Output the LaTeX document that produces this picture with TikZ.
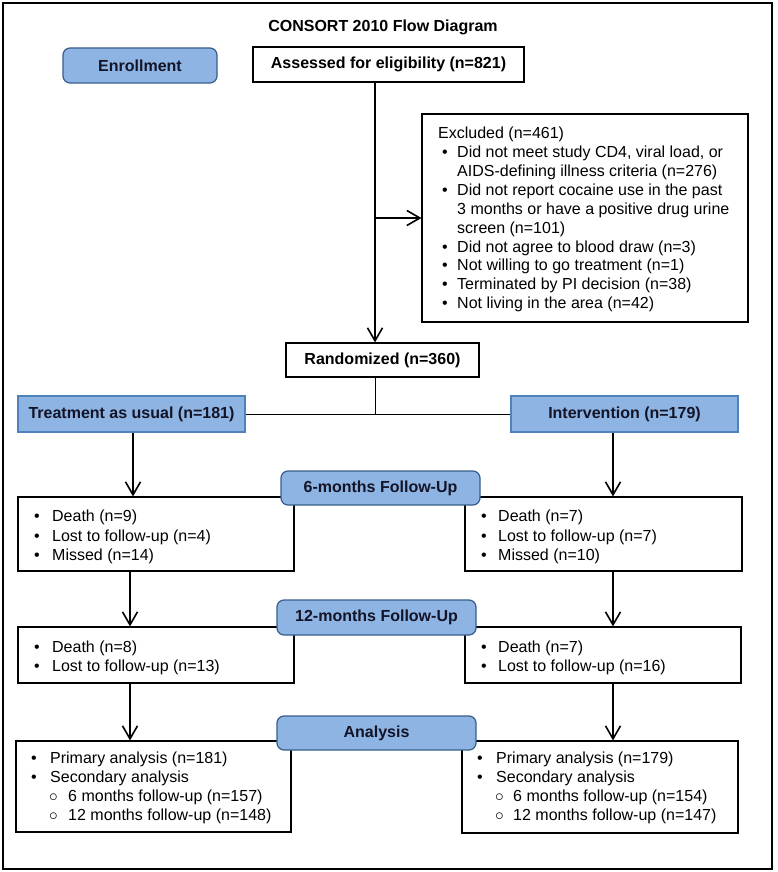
\documentclass[tikz,border=0pt]{standalone}
\usepackage{fontspec}
\setmainfont{Liberation Sans}
\usetikzlibrary{arrows.meta}
\definecolor{bfill}{RGB}{141,180,226}
\definecolor{bdraw}{RGB}{79,129,189}
\definecolor{rdraw}{RGB}{56,93,138}
\definecolor{dtext}{RGB}{20,20,40}
\newcommand\bu[1]{\makebox[#1][l]{\textbullet}}
\newcommand\ci[1]{\makebox[#1][l]{$\circ$}}
\begin{document}
\begin{tikzpicture}[x=1pt,y=-1pt,
  every node/.style={inner sep=0pt, font=\fontsize{16}{19}\selectfont},
  bold/.style={font=\bfseries\fontsize{16}{19}\selectfont},
  plain/.style={draw=black, line width=1.1pt, fill=white, rectangle, bold},
  cbox/.style={draw=black, line width=1.1pt, fill=white, rectangle},
  blue/.style={draw=bdraw, line width=1.2pt, fill=bfill, rectangle, bold, text=dtext},
  phase/.style={draw=rdraw, line width=1.2pt, fill=bfill, rounded corners=7pt, bold, text=dtext},
  arr/.style={line width=1.6pt, -{Straight Barb[length=13pt,width=15pt]}},
  link/.style={line width=1pt},
  txt/.style={anchor=base west, inner sep=0pt, align=left}]
\useasboundingbox (0,0) rectangle (777,872);
\draw[line width=1.5pt] (3,3) rectangle (772,869);

\node[bold, anchor=base] (title) at (383,32) {CONSORT 2010 Flow Diagram};

% boxes
\node[phase, minimum width=154pt, minimum height=35pt] (enrol) at (140,65.5) {Enrollment};
\node[plain, minimum width=271pt, minimum height=35pt] (assess) at (388.5,64.5) {Assessed for eligibility (n=821)};
\node[cbox, minimum width=326pt, minimum height=208pt] (excl) at (585,218) {};
\node[plain, minimum width=193pt, minimum height=34pt] (rand) at (382.5,360) {Randomized (n=360)};
\node[blue, minimum width=227pt, minimum height=36pt] (treat) at (131.5,414) {Treatment as usual (n=181)};
\node[blue, minimum width=227pt, minimum height=36pt] (interv) at (624.5,414) {Intervention (n=179)};

\node[cbox, minimum width=276pt, minimum height=74pt] (fsixL) at (156,534) {};
\node[cbox, minimum width=277pt, minimum height=74pt] (fsixR) at (603.5,534) {};
\node[cbox, minimum width=276pt, minimum height=56pt] (ftwL) at (156,655) {};
\node[cbox, minimum width=276pt, minimum height=56pt] (ftwR) at (603,655) {};
\node[cbox, minimum width=275pt, minimum height=91pt] (anL) at (153.5,786.5) {};
\node[cbox, minimum width=276pt, minimum height=92pt] (anR) at (600,787) {};

\node[phase, minimum width=199pt, minimum height=34pt] (psix) at (380.5,488) {6-months Follow-Up};
\node[phase, minimum width=199pt, minimum height=35pt] (ptw) at (376.5,617.5) {12-months Follow-Up};
\node[phase, minimum width=199pt, minimum height=34pt] (pan) at (376.5,733) {Analysis};

% texts
\node[txt] (exT) at (438,139) {\fontsize{16}{18.85}\selectfont\begin{tabular}[t]{@{}l@{}}Excluded (n=461)\\
\hspace*{4pt}\bu{15pt}Did not meet study CD4, viral load, or\\
\hspace*{19pt}AIDS-defining illness criteria (n=276)\\
\hspace*{4pt}\bu{15pt}Did not report cocaine use in the past\\
\hspace*{19pt}3 months or have a positive drug urine\\
\hspace*{19pt}screen (n=101)\\
\hspace*{4pt}\bu{15pt}Did not agree to blood draw (n=3)\\
\hspace*{4pt}\bu{15pt}Not willing to go treatment (n=1)\\
\hspace*{4pt}\bu{15pt}Terminated by PI decision (n=38)\\
\hspace*{4pt}\bu{15pt}Not living in the area (n=42)\end{tabular}};

\node[txt] (fsixLT) at (34,521.5) {\fontsize{16}{19.5}\selectfont\begin{tabular}[t]{@{}l@{}}\bu{18pt}Death (n=9)\\
\bu{18pt}Lost to follow-up (n=4)\\
\bu{18pt}Missed (n=14)\end{tabular}};
\node[txt] (fsixRT) at (481,521.5) {\fontsize{16}{19.5}\selectfont\begin{tabular}[t]{@{}l@{}}\bu{17pt}Death (n=7)\\
\bu{17pt}Lost to follow-up (n=7)\\
\bu{17pt}Missed (n=10)\end{tabular}};

\node[txt] (ftwLT) at (34,652.5) {\begin{tabular}[t]{@{}l@{}}\bu{18pt}Death (n=8)\\
\bu{18pt}Lost to follow-up (n=13)\end{tabular}};
\node[txt] (ftwRT) at (481,652.5) {\begin{tabular}[t]{@{}l@{}}\bu{17pt}Death (n=7)\\
\bu{17pt}Lost to follow-up (n=16)\end{tabular}};

\node[txt] (anLT) at (31,763.5) {\begin{tabular}[t]{@{}l@{}}\bu{19pt}Primary analysis (n=181)\\
\bu{19pt}Secondary analysis\\
\hspace*{18pt}\ci{19pt}6 months follow-up (n=157)\\
\hspace*{18pt}\ci{19pt}12 months follow-up (n=148)\end{tabular}};
\node[txt] (anRT) at (477,763.5) {\begin{tabular}[t]{@{}l@{}}\bu{19pt}Primary analysis (n=179)\\
\bu{19pt}Secondary analysis\\
\hspace*{18pt}\ci{18pt}6 months follow-up (n=154)\\
\hspace*{18pt}\ci{18pt}12 months follow-up (n=147)\end{tabular}};

% connectors
\coordinate (spine) at (375,0);
\coordinate (colT) at (133,0);
\coordinate (colL) at (130,0);
\coordinate (colR) at (613,0);
\draw[arr] (assess.south -| spine) -- (rand.north -| spine);
\draw[arr] (spine |- excl.west) -- (excl.west);
\draw[link] (rand.south -| spine) -- (spine |- treat.east);
\draw[link] (treat.east) -- (interv.west);
\draw[arr] (treat.south -| colT) -- (fsixL.north -| colT);
\draw[arr] (interv.south -| colR) -- (fsixR.north -| colR);
\draw[arr] (fsixL.south -| colL) -- (ftwL.north -| colL);
\draw[arr] (fsixR.south -| colR) -- (ftwR.north -| colR);
\draw[arr] (ftwL.south -| colL) -- (anL.north -| colL);
\draw[arr] (ftwR.south -| colR) -- (anR.north -| colR);
\end{tikzpicture}
\end{document}
